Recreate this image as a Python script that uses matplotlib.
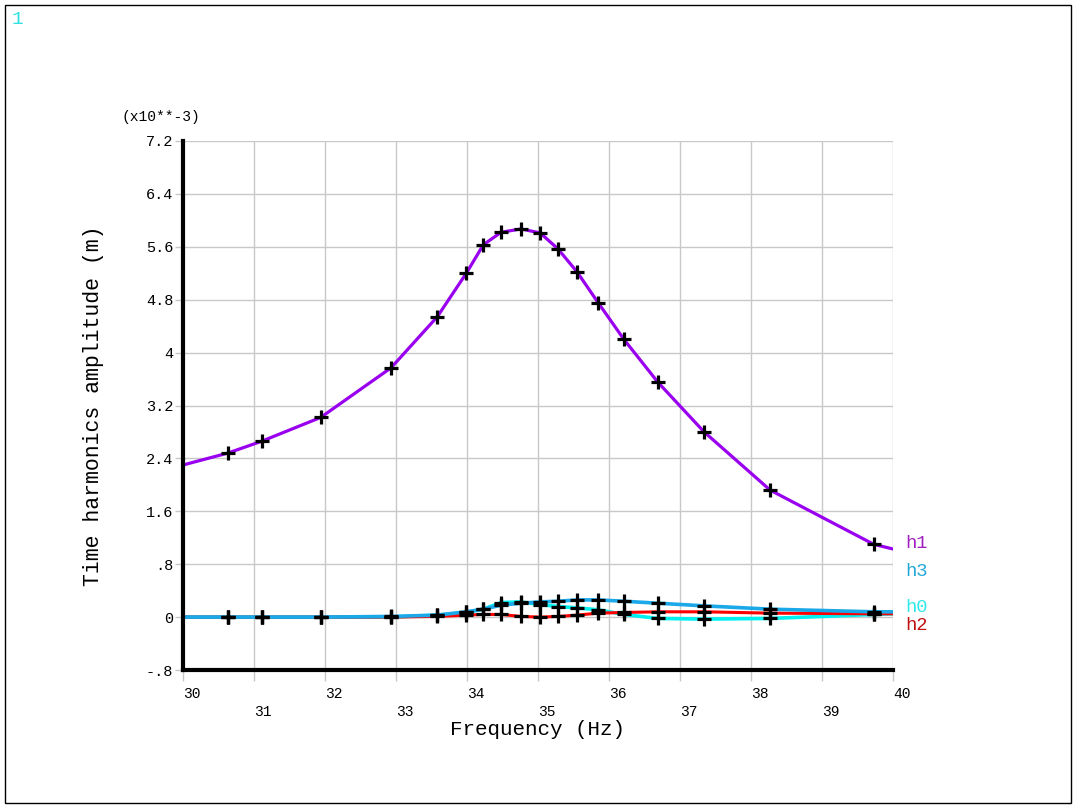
import matplotlib
matplotlib.use("Agg")
import matplotlib.pyplot as plt
from matplotlib.patches import Rectangle

# ---- data (amplitude in 1e-3 m) ----
freq = [30.0, 30.63, 31.11, 31.94, 32.93, 33.58, 33.99, 34.23, 34.48, 34.76,
        35.03, 35.28, 35.55, 35.85, 36.21, 36.69, 37.34, 38.27, 39.73, 40.0]
h1 = [2.30, 2.48, 2.66, 3.02, 3.77, 4.54, 5.20, 5.63, 5.82, 5.87,
      5.81, 5.57, 5.22, 4.75, 4.20, 3.55, 2.80, 1.92, 1.10, 1.03]
h3 = [0.0, 0.0, 0.0, 0.0, 0.01, 0.03, 0.08, 0.12, 0.18, 0.21,
      0.23, 0.24, 0.26, 0.26, 0.24, 0.21, 0.17, 0.12, 0.08, 0.08]
h0 = [0.0, 0.0, 0.0, 0.0, 0.0, 0.03, 0.07, 0.12, 0.22, 0.23,
      0.19, 0.16, 0.14, 0.11, 0.04, -0.02, -0.03, -0.02, 0.04, 0.05]
h2 = [0.0, 0.0, 0.0, 0.0, 0.0, 0.01, 0.03, 0.04, 0.04, 0.01,
      0.00, 0.01, 0.03, 0.06, 0.07, 0.08, 0.08, 0.06, 0.05, 0.05]

x_ticks = [30, 31, 32, 33, 34, 35, 36, 37, 38, 39, 40]
y_ticks = [-0.8, 0, 0.8, 1.6, 2.4, 3.2, 4.0, 4.8, 5.6, 6.4, 7.2]
y_tick_labels = ["-.8", "0", ".8", "1.6", "2.4", "3.2", "4", "4.8", "5.6", "6.4", "7.2"]

FONT = "Liberation Mono"
plt.rcParams["font.family"] = [FONT, "DejaVu Sans Mono"]

W, H = 1077, 810
fig = plt.figure(figsize=(W / 100, H / 100), dpi=100)
fig.patch.set_facecolor("white")

# outer border
fig.add_artist(Rectangle((5 / W, 1 - 803 / H), 1066 / W, 798 / H,
                         transform=fig.transFigure, fill=False,
                         edgecolor="black", linewidth=1))
fig.text(12 / W, 1 - 20 / H, "1", color="#30e0e0", fontsize=14,
         ha="left", va="center")

left, right = 183 / W, 893 / W
bottom, top = 1 - 670 / H, 1 - 141 / H
ax = fig.add_axes([left, bottom, right - left, top - bottom])
ax.set_xlim(30, 40)
ax.set_ylim(-0.8, 7.2)

grid_c = "#c8c8c8"
ax.set_xticks(x_ticks)
ax.set_xticklabels([str(t) for t in x_ticks])
ax.set_yticks(y_ticks)
ax.set_yticklabels(y_tick_labels)
ax.grid(True, color=grid_c, linewidth=1)
ax.set_axisbelow(True)
ax.tick_params(axis="x", direction="out", length=8, width=1, color=grid_c,
               labelsize=10.5, pad=4)
ax.tick_params(axis="y", direction="out", length=6, width=1, color=grid_c,
               labelsize=11, pad=1)
for lab in ax.get_xticklabels():
    lab.set_ha("left")
for i, tk in enumerate(ax.xaxis.get_major_ticks()):
    if i % 2 == 1:
        tk.set_pad(17)

for s in ("top", "right"):
    ax.spines[s].set_visible(False)
for s in ("left", "bottom"):
    ax.spines[s].set_linewidth(3)
    ax.spines[s].set_color("black")
    ax.spines[s].set_zorder(5)

ax.plot(freq, h1, color="#9a00f0", linewidth=2.3, zorder=3)
ax.plot(freq, h0, color="#00f0f0", linewidth=2.6, zorder=3)
ax.plot(freq, h2, color="#ff0000", linewidth=2.2, zorder=3)
ax.plot(freq, h3, color="#1aa8e8", linewidth=2.6, zorder=3)

mk = dict(linestyle="none", marker="+", markersize=9.5, markeredgewidth=2.3,
          color="black", zorder=4)
for series in (h1, h0, h2, h3):
    ax.plot(freq[1:-1], series[1:-1], **mk)

ax.set_xlabel("Frequency (Hz)", fontsize=15, labelpad=1)
ax.set_ylabel("Time harmonics amplitude (m)", fontsize=15.5, labelpad=30)
ax.text(-0.087, 1.045, "(x10**-3)", transform=ax.transAxes, fontsize=10.5,
        ha="left", va="center")

# curve labels on the right
lab_x = 905 / W
fig.text(lab_x, 1 - 543 / H, "h1", color="#a020c0", fontsize=13.5, va="center")
fig.text(lab_x, 1 - 571 / H, "h3", color="#20a8d8", fontsize=13.5, va="center")
fig.text(lab_x, 1 - 607 / H, "h0", color="#30e8e8", fontsize=13.5, va="center")
fig.text(lab_x, 1 - 626 / H, "h2", color="#c01010", fontsize=13.5, va="center")

fig.savefig("out.png", dpi=100)
